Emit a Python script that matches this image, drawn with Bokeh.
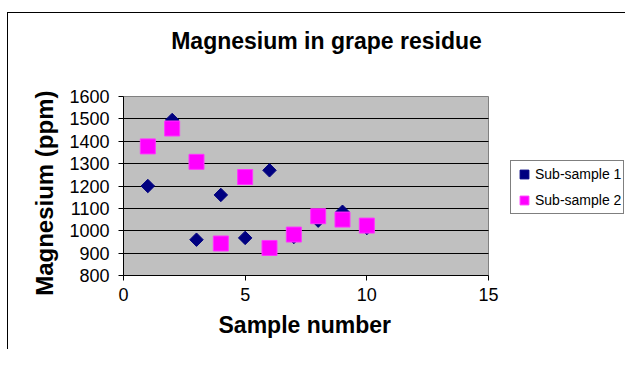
from bokeh.plotting import figure
from bokeh.models import Range1d, FixedTicker, Legend, LegendItem, ColumnDataSource, Label, Title
from bokeh.embed import file_html
from bokeh.resources import INLINE

# ---- data ----
sample_number = [1, 2, 3, 4, 5, 6, 7, 8, 9, 10]
sub_sample_1 = [1200, 1495, 960, 1160, 968, 1270, 972, 1045, 1085, 1012]
sub_sample_2 = [1377, 1457, 1308, 943, 1240, 923, 983, 1065, 1050, 1023]
series_names = ["Sub-sample 1", "Sub-sample 2"]
x_ticks = [0, 5, 10, 15]
y_ticks = [800, 900, 1000, 1100, 1200, 1300, 1400, 1500, 1600]
title_text = "Magnesium in grape residue"
x_label = "Sample number"
y_label = "Magnesium (ppm)"

FONT = "Liberation Sans"
X_MIN, X_MAX = x_ticks[0], x_ticks[-1]
Y_MIN, Y_MAX = y_ticks[0], y_ticks[-1]

# ---- layout (pixels) ----
W, H = 625, 349
PLOT_LEFT, PLOT_RIGHT, PLOT_TOP, PLOT_BOTTOM = 123, 488, 96, 275
FRAME_RIGHT, FRAME_TOP = 625, 13   # frame is larger than the grey plot area


def sx_to_x(px):
    return X_MIN + (X_MAX - X_MIN) * (px - PLOT_LEFT) / (PLOT_RIGHT - PLOT_LEFT)


def sy_to_y(py):
    return Y_MIN + (Y_MAX - Y_MIN) * (PLOT_BOTTOM - py) / (PLOT_BOTTOM - PLOT_TOP)


p = figure(width=W, height=H, output_backend="svg", toolbar_location=None, title=None,
           x_range=Range1d(X_MIN, sx_to_x(FRAME_RIGHT)),
           y_range=Range1d(Y_MIN, sy_to_y(FRAME_TOP)),
           min_border_left=PLOT_LEFT, min_border_right=W - FRAME_RIGHT,
           min_border_top=FRAME_TOP, min_border_bottom=H - PLOT_BOTTOM)
p.border_fill_color = None
p.background_fill_color = None
p.outline_line_color = None
p.styles = {"background": "linear-gradient(black, black) 7px 12px / 100% 1px no-repeat, "
                          "linear-gradient(black, black) 7px 12px / 1px 100% no-repeat, white"}

# grey plot area bounded to the data extent
p.quad(left=[X_MIN], right=[X_MAX], bottom=[Y_MIN], top=[Y_MAX],
       fill_color="#C0C0C0", line_color="#808080", line_width=1, level="image")

p.xgrid.visible = False
p.ygrid.grid_line_color = "black"
p.ygrid.grid_line_width = 1
p.ygrid.ticker = FixedTicker(ticks=y_ticks[1:-1])
p.ygrid.cross_bounds = (X_MIN, X_MAX)

p.xaxis.ticker = FixedTicker(ticks=x_ticks)
p.yaxis.ticker = FixedTicker(ticks=y_ticks)
p.xaxis.bounds = (X_MIN, X_MAX)
p.yaxis.bounds = (Y_MIN, Y_MAX)
for ax in (p.xaxis[0], p.yaxis[0]):
    ax.axis_line_color = "black"
    ax.major_tick_line_color = "black"
    ax.major_tick_out = 5
    ax.major_tick_in = 0
    ax.minor_tick_line_color = None
    ax.major_label_text_font = FONT
    ax.major_label_text_font_size = "18px"
    ax.major_label_text_color = "black"
p.xaxis.major_label_standoff = 7
p.yaxis.major_label_standoff = 9

# axis titles, placed against the grey plot area
xt = Title(text=x_label, align="left", offset=95, standoff=12, text_font=FONT,
           text_font_size="23px", text_font_style="bold", text_color="black")
p.add_layout(xt, "below")
yt = Title(text=y_label, align="right", offset=77, standoff=18, text_font=FONT,
           text_font_size="24px", text_font_style="bold", text_color="black")
p.add_layout(yt, "left")

# chart title
p.add_layout(Label(x=sx_to_x(326), y=sy_to_y(40), text=title_text, text_align="center",
                   text_baseline="alphabetic", text_font=FONT, text_font_size="23px",
                   text_font_style="bold", text_color="black"))

src = ColumnDataSource(dict(x=sample_number, s1=sub_sample_1, s2=sub_sample_2))

r1 = p.scatter("x", "s1", source=src, marker="square", angle=0.785398, size=9.5,
               fill_color="#000080", line_color="#000080")
r2 = p.scatter("x", "s2", source=src, marker="square", size=15,
               fill_color="#FF00FF", line_color="#FF33FF")

legend = Legend(items=[LegendItem(label=series_names[0], renderers=[r1]),
                       LegendItem(label=series_names[1], renderers=[r2])],
                location=(510 - PLOT_LEFT, PLOT_BOTTOM - 214))
legend.label_text_font = FONT
legend.label_text_font_size = "14px"
legend.label_text_color = "black"
legend.border_line_color = "black"
legend.border_line_width = 1
legend.background_fill_color = "white"
legend.background_fill_alpha = 1
legend.padding = 2
legend.margin = 0
legend.spacing = 4
legend.glyph_width = 22
legend.glyph_height = 22
legend.label_height = 22
legend.label_standoff = 0
p.add_layout(legend, "center")

open("out.html", "w").write(file_html(p, INLINE))
